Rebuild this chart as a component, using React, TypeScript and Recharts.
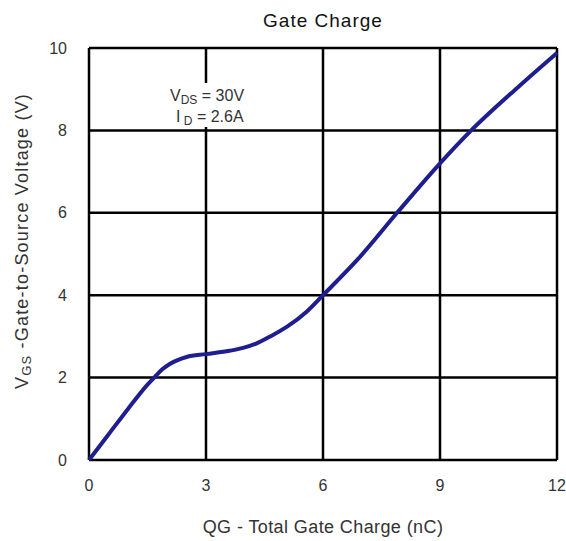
import React from 'react';
import { LineChart, Line, XAxis, YAxis, CartesianGrid, Label } from 'recharts';

const charge = [0, 0.5, 1, 1.5, 1.69, 1.88, 2.07, 2.5, 3, 3.6, 3.95, 4.3, 4.63, 5.07, 5.58, 6, 6.9, 7.9, 9, 9.8, 11, 12];
const vgs = [0, 0.62, 1.24, 1.83, 2.02, 2.2, 2.33, 2.5, 2.57, 2.65, 2.72, 2.83, 2.99, 3.23, 3.6, 4.0, 4.88, 6.0, 7.2, 8.0, 9.05, 9.88];
const xTicks = [0, 3, 6, 9, 12];
const yTicks = [0, 2, 4, 6, 8, 10];

const data = charge.map((q, i) => ({ q, v: vgs[i] }));

const FONT = '"Liberation Sans", Arial, sans-serif';
const TEXT = '#333';

function YLabel() {
  const cx = 22;
  const cy = 241;
  return (
    <text x={cx} y={cy} transform={`rotate(-90 ${cx} ${cy})`} textAnchor="middle" dominantBaseline="central"
      fontFamily={FONT} fontSize={18} letterSpacing={1.2} fill={TEXT}>
      V<tspan fontSize={13} dy={4}>GS</tspan><tspan dy={-4}> -Gate-to-Source Voltage (V)</tspan>
    </text>
  );
}

export default function App() {
  return (
    <div style={{ position: 'absolute', left: 0, top: 0, width: 566, height: 541, background: '#fff' }}>
      <LineChart width={566} height={541} data={data} margin={{ top: 48, right: 9, bottom: 0, left: 0 }}>
        <CartesianGrid stroke="#000" strokeWidth={2.5} />
        <XAxis dataKey="q" type="number" domain={[0, 12]} ticks={xTicks} axisLine={false} tickLine={false}
          tickMargin={14} tick={{ fontFamily: FONT, fontSize: 16, fill: TEXT }} height={81}>
          <Label value="QG - Total Gate Charge (nC)" position="insideBottom" offset={8}
            style={{ fontFamily: FONT, fontSize: 18, letterSpacing: 0.4, fill: TEXT }} />
        </XAxis>
        <YAxis type="number" domain={[0, 10]} ticks={yTicks} axisLine={false} tickLine={false} width={89}
          tickMargin={16} tick={{ fontFamily: FONT, fontSize: 16, fill: TEXT }}>
          <Label content={<YLabel />} />
        </YAxis>
        <Line dataKey="v" type="monotone" stroke="#1e1e8e" strokeWidth={4} dot={false} isAnimationActive={false} />
      </LineChart>
      <svg width={566} height={541} style={{ position: 'absolute', left: 0, top: 0, pointerEvents: 'none' }}>
        <text x={323} y={27} textAnchor="middle" fontFamily={FONT} fontSize={19} letterSpacing={1} fill="#111">Gate Charge</text>
        <rect x={165} y={83} width={92} height={44} fill="#fff" />
        <text x={170} y={101} fontFamily={FONT} fontSize={16} fill={TEXT}>
          V<tspan fontSize={12} dy={3}>DS</tspan><tspan dy={-3}> = 30V</tspan>
        </text>
        <text x={176} y={122} fontFamily={FONT} fontSize={16} fill={TEXT}>
          I<tspan fontSize={12} dy={3}> D</tspan><tspan dy={-3}>  = 2.6A</tspan>
        </text>
      </svg>
    </div>
  );
}
